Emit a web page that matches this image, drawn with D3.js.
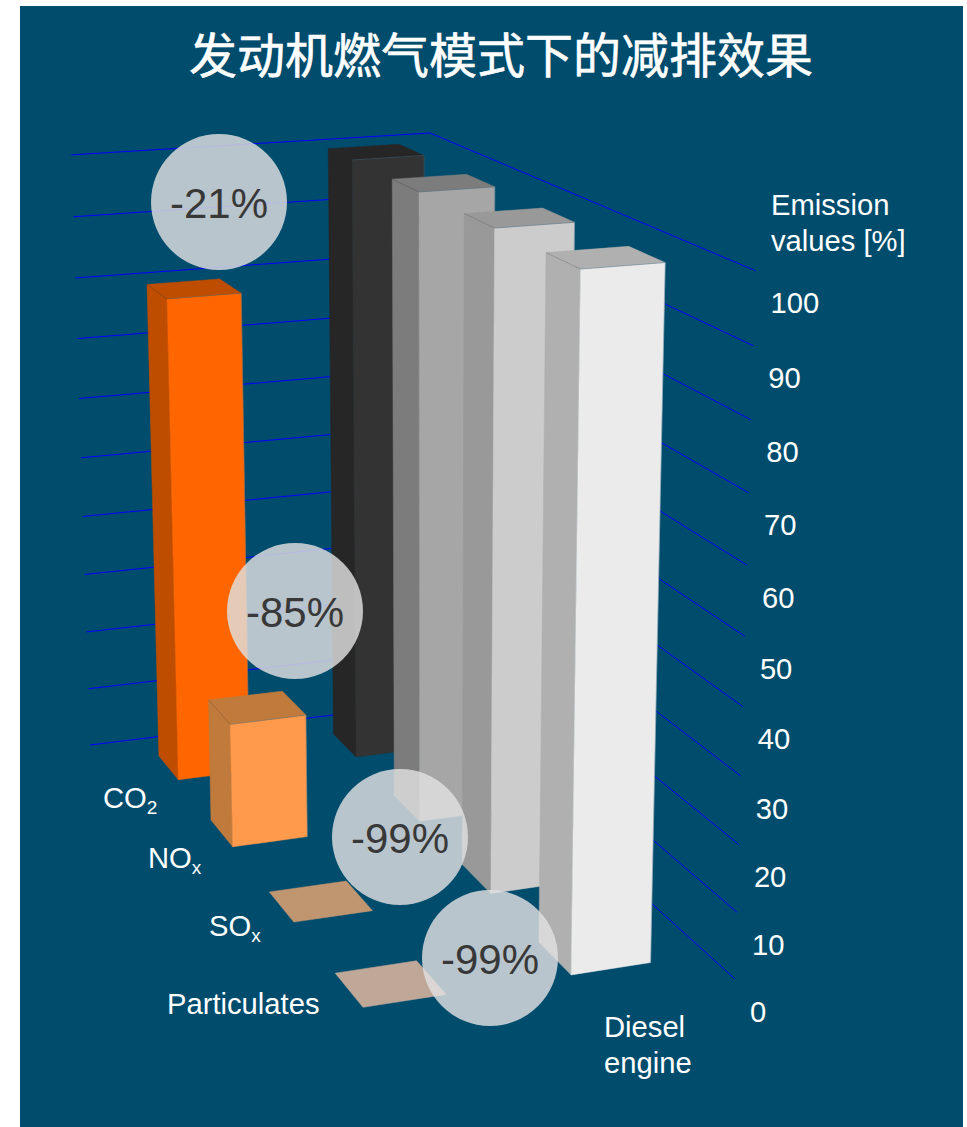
<!DOCTYPE html>
<html><head><meta charset="utf-8">
<script src="https://cdnjs.cloudflare.com/ajax/libs/d3/7.8.5/d3.min.js"></script>
<style>html,body{margin:0;padding:0;background:#fff}svg{display:block}</style></head>
<body><svg id="c" width="967" height="1127"></svg>
<script>
const title = "发动机燃气模式下的减排效果";
const engines = ["Diesel", "Gas"];
const pollutants = ["CO2", "NOx", "SOx", "Particulates"];
const dieselValues = [100, 100, 100, 100];
const gasValues = [80, 20, 0, 0];
const reductions = ["-21%", "-85%", "-99%", "-99%"];
const axisTicks = [0,10,20,30,40,50,60,70,80,90,100];

const frontColors = {Diesel:["#333333","#a6a6a6","#cccccc","#ebebeb"], Gas:["#ff6600","#ff9a4d","#c09671","#c0a898"]};
const sideColors  = {Diesel:["#262626","#7c7c7c","#999999","#b0b0b0"], Gas:["#bf4d00","#bf7a3c","#c09671","#c0a898"]};

const BG = "#004c6d";
const svg = d3.select("#c");
svg.append("rect").attr("x",20).attr("y",6).attr("width",943).attr("height",1121).attr("fill",BG);

// perspective model: s runs along the back wall, t along the right wall, h up
const O=[430,703], SE=[90,745], TE=[735,979], HE=[430,133];
const wS=.964, wT=.795, wH=.95;
function project(s,t,h){
  const w=1+s*(wS-1)+t*(wT-1)+h*(wH-1);
  const f=i=>(O[i]+s*(wS*SE[i]-O[i])+t*(wT*TE[i]-O[i])+h*(wH*HE[i]-O[i]))/w;
  return [f(0),f(1)];
}
const yScale=d3.scaleLinear().domain([0,100]).range([0,1]);
const sScale=d3.scaleBand().domain(engines).range([0,1]).paddingInner(.606).paddingOuter(.297).align(.479);
const tScale=d3.scaleBand().domain(pollutants).range([0,1]).paddingInner(.614).paddingOuter(.295);
const line=d3.line();

// grid
const grid=svg.append("g").attr("fill","none").attr("stroke","#0000ff").attr("stroke-width",1);
axisTicks.forEach(v=>{
  const h=yScale(v);
  grid.append("path").attr("d",line([project(1,0,h),project(0,0,h),project(0,1,h)]));
});
// axis labels
const txt=svg.append("g").attr("fill","#fff").attr("font-family","'Liberation Sans',Arial,sans-serif").attr("font-size",29.2);
axisTicks.forEach(v=>{
  const p=project(0,1,yScale(v));
  txt.append("text").attr("x",p[0]+15).attr("y",p[1]+42.5).text(v);
});

// bars, back to front
const bars=[];
pollutants.forEach((p,i)=>{
  bars.push({engine:"Gas",p,i,v:gasValues[i]});
  bars.push({engine:"Diesel",p,i,v:dieselValues[i]});
});
const gb=svg.append("g");
bars.forEach(b=>{
  const s0=sScale(b.engine), s1=s0+sScale.bandwidth();
  const t0=tScale(b.p), t1=t0+tScale.bandwidth();
  const h=yScale(b.v);
  const front=frontColors[b.engine][b.i], side=sideColors[b.engine][b.i];
  const face=(pts,fill)=>gb.append("path").attr("d",line(pts)+"Z").attr("fill",fill).attr("stroke",fill).attr("stroke-width",.5);
  if(b.v>0){
    face([project(s1,t0,0),project(s1,t1,0),project(s1,t1,h),project(s1,t0,h)],side);
    face([project(s1,t1,0),project(s0,t1,0),project(s0,t1,h),project(s1,t1,h)],front);
  }
  face([project(s1,t0,h),project(s0,t0,h),project(s0,t1,h),project(s1,t1,h)],side);
  if(b.v>0){
    // hairline seams visible in the original rendering
    gb.append("path").attr("d",line([project(s1,t0,h),project(s1,t1,h)]))
      .attr("fill","none").attr("stroke","#333").attr("stroke-opacity",.45).attr("stroke-width",.5);
    gb.append("path").attr("d",line([project(s1,t1,h),project(s0,t1,h),project(s0,t1,0)]))
      .attr("fill","none").attr("stroke","#4f7c93").attr("stroke-opacity",.6).attr("stroke-width",.6);
  }
});

// reduction bubbles
const bubbleAnchors=[[219,202],[295,611],[400,837],[490,958]];
const gc=svg.append("g");
reductions.forEach((r,i)=>{
  const [cx,cy]=bubbleAnchors[i];
  gc.append("circle").attr("cx",cx).attr("cy",cy).attr("r",68).attr("fill","#e1e1e1").attr("fill-opacity",.82);
  gc.append("text").attr("x",cx).attr("y",cy+16).attr("text-anchor","middle")
    .attr("font-family","'Liberation Sans',Arial,sans-serif").attr("font-size",42).attr("fill","#383838").text(r);
});

// category labels
function sub(x,y,base,s){
  const t=txt.append("text").attr("x",x).attr("y",y).text(base);
  if(s) t.append("tspan").attr("dy",6).attr("font-size",19).text(s);
}
sub(103,808,"CO","2");
sub(148,868,"NO","x");
sub(209,936,"SO","x");
sub(167,1014,"Particulates");
sub(604,1037,"Diesel");
sub(604,1073,"engine");
sub(771,215,"Emission");
sub(771,251,"values [%]");

svg.append("text").attr("x",501).attr("y",73).attr("text-anchor","middle")
  .attr("font-family","'Noto Sans CJK SC',sans-serif").attr("font-size",48).attr("fill","#fff")
  .attr("stroke","#fff").attr("stroke-width",.6).text(title);
</script></body></html>
